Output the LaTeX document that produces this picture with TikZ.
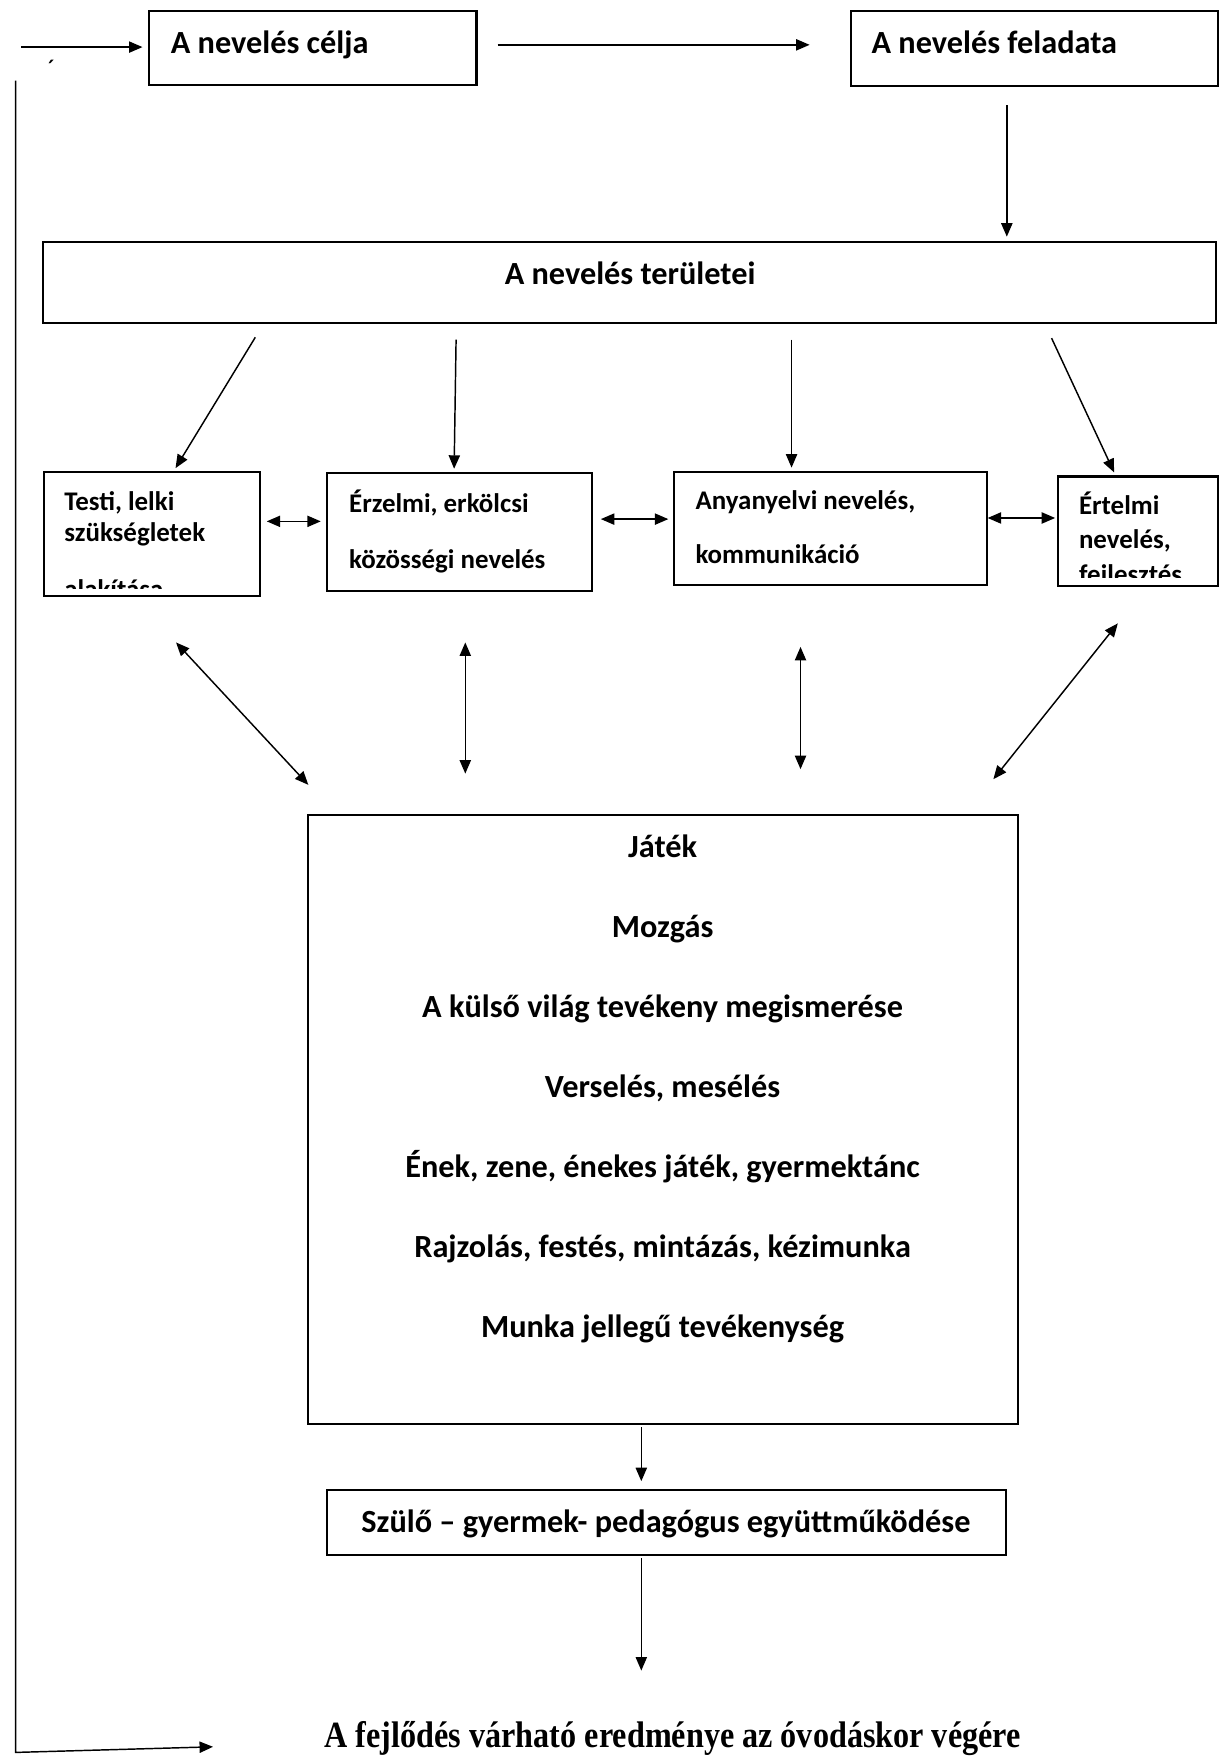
\documentclass[tikz,border=0pt]{standalone}
\usepackage{fontspec}
\setmainfont{Carlito}
\newfontfamily\timesfont{Liberation Serif}
\usetikzlibrary{arrows.meta,fit}

\begin{document}
\begin{tikzpicture}[x=0.5pt, y=-0.5pt,
    box/.style={draw, line width=0.9pt, inner sep=0pt},
    txt/.style={font=\bfseries\fontsize{12}{14}\selectfont, inner sep=0pt},
    bigtxt/.style={font=\bfseries\fontsize{14.4}{17}\selectfont, inner sep=0pt},
    arr/.style={-{Triangle[length=6pt,width=5pt]}, line width=0.65pt},
    dbl/.style={{Triangle[length=6pt,width=5pt]}-{Triangle[length=6pt,width=5pt]}, line width=0.65pt}]

    \useasboundingbox (0,0) rectangle (1087,1568);

    % boxes
    \node[box, fit={(133,10) (425,76)}] (celja) {};
    \node[box, fit={(759,10) (1086,77)}] (feladata) {};
    \node[box, fit={(38,216) (1085,288)}] (teruletei) {};
    \node[box, fit={(39,421) (232,532)}] (testi) {};
    \node[box, fit={(292,422) (528,527)}] (erzelmi) {};
    \node[box, fit={(601,421) (880,522)}] (anyanyelvi) {};
    \node[box, fit={(944,425) (1086,523)}] (ertelmi) {};
    \node[box, fit={(275,727) (908,1270)}] (tevek) {};
    \node[box, fit={(292,1329) (897,1387)}] (szulo) {};

    % texts
    \node[bigtxt, anchor=base west] (celjaT) at (152,48) {A nevelés célja};
    \node[bigtxt, anchor=base west] (feladataT) at (777,48) {A nevelés feladata};
    \node[bigtxt, anchor=base] (teruleteiT) at (562,254) {A nevelés területei};

    \begin{scope}
      \clip (testi.north west) rectangle (testi.east |- 0,524.5);
      \node[txt, anchor=base west] (testiA) at (57,455) {Testi, lelki};
      \node[txt, anchor=base west] (testiB) at (57,483) {szükségletek};
      \node[txt, anchor=base west] (testiC) at (57,534) {alakítása};
    \end{scope}

    \node[txt, anchor=base west] (erzelmiA) at (311,457) {Érzelmi, erkölcsi};
    \node[txt, anchor=base west] (erzelmiB) at (311,507) {közösségi nevelés};

    \node[txt, anchor=base west] (anyanyelviA) at (620,454) {Anyanyelvi nevelés,};
    \node[txt, anchor=base west] (anyanyelviB) at (620,503) {kommunikáció};

    \begin{scope}
      \clip (ertelmi.north west) rectangle (ertelmi.east |- 0,515);
      \node[txt, anchor=base west] (ertelmiA) at (962,459) {Értelmi};
      \node[txt, anchor=base west] (ertelmiB) at (962,489) {nevelés,};
      \node[txt, anchor=base west] (ertelmiC) at (962,520) {fejlesztés};
    \end{scope}

    \foreach \t [count=\i] in {Játék, Mozgás, A külső világ tevékeny megismerése,
        {Verselés, mesélés}, {Ének, zene, énekes játék, gyermektánc},
        {Rajzolás, festés, mintázás, kézimunka}, Munka jellegű tevékenység}
      \node[bigtxt, anchor=base] (tevek\i) at (591,693.5+71.3*\i) {\t};

    \node[bigtxt, anchor=base] (szuloT) at (594,1367) {Szülő – gyermek- pedagógus együttműködése};
    \node[inner sep=0pt, anchor=base, font=\timesfont\bfseries\fontsize{16.5}{18}\selectfont,
      xscale=0.87, transform shape] (eredmeny) at (600,1559)
      {A fejlődés várható eredménye az óvodáskor végére};
    \node[inner sep=0pt, font=\fontsize{12}{12}\selectfont] (tick) at (46,62) {´};

    % connectors
    \coordinate (inS) at (19,42);
    \draw[arr, shorten >=2.5pt] (inS) -- (inS -| celja.west);
    \draw[arr, shorten <=9pt, shorten >=18pt] (celja.east |- 0,40) -- (feladata.west |- 0,40);
    \draw[arr, shorten <=8pt, shorten >=2pt] (feladata.south -| 898,0) -- (teruletei.north -| 898,0);

    \foreach \xa/\xb/\dest in {235/155/testi, 407/405/erzelmi, 706/706/anyanyelvi, 932/995/ertelmi}
      \draw[arr, shorten <=7pt, shorten >=1.5pt] (teruletei.south -| \xa,0) -- (\dest.north -| \xb,0);

    \draw[dbl, shorten <=2.5pt, shorten >=2.5pt] (testi.east |- 0,465) -- (erzelmi.west |- 0,465);
    \draw[dbl, shorten <=3.5pt, shorten >=2pt] (erzelmi.east |- 0,463) -- (anyanyelvi.west |- 0,463);
    \draw[dbl, shorten >=1pt] (anyanyelvi.east |- 0,462) -- (ertelmi.west |- 0,462);

    \foreach \xa/\ya/\xb/\yb [count=\i] in {157/573/275/700, 415/573/415/690, 714/577/714/686, 997/556/886/695} {
      \coordinate (up\i) at (\xa,\ya);
      \coordinate (down\i) at (\xb,\yb);
      \draw[dbl] (up\i) -- (down\i);
    }

    \draw[arr, shorten <=1pt, shorten >=3.5pt] (tevek.south -| 572,0) -- (szulo.north -| 572,0);
    \draw[arr, shorten <=1pt] (szulo.south -| 572,0) -- (572,1490);

    % loop back
    \coordinate (ltop) at (14,72);
    \coordinate (lbot) at (14,1563);
    \coordinate (lend) at (190,1558);
    \draw[arr] (ltop) -- (lbot) -- (lend);
  \end{tikzpicture}
\end{document}
